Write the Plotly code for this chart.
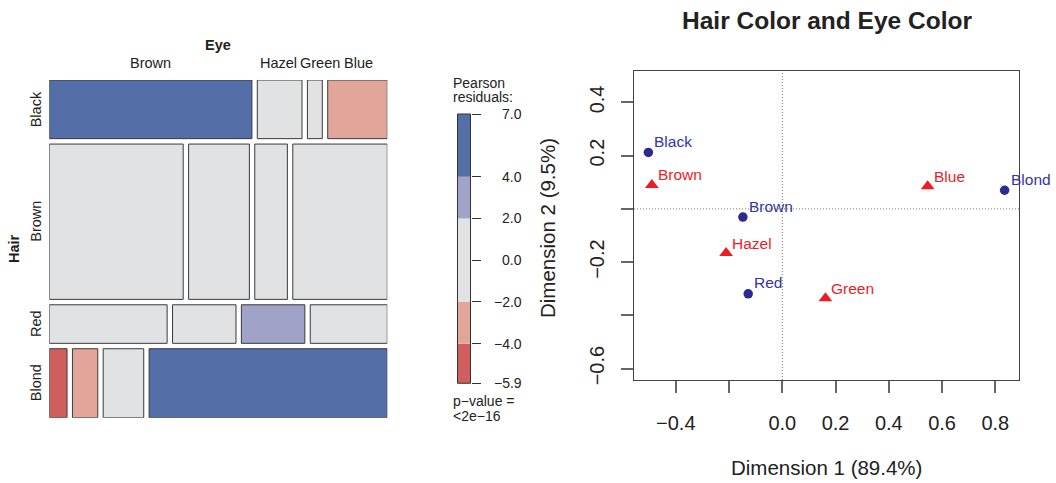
import numpy as np
import plotly.graph_objects as go

W, H = 1056, 483
FONT = "Liberation Sans, Arial, Helvetica, sans-serif"

# ---------------- data ----------------
hair_levels = ["Black", "Brown", "Red", "Blond"]
eye_levels = ["Brown", "Hazel", "Green", "Blue"]
counts_black = [68, 15, 5, 20]
counts_brown = [119, 54, 29, 84]
counts_red = [26, 14, 14, 17]
counts_blond = [7, 10, 16, 94]

legend_breaks = [-5.9, -4.0, -2.0, 2.0, 4.0, 7.0]
legend_tick_vals = [7.0, 4.0, 2.0, 0.0, -2.0, -4.0, -5.9]

hair_dim1 = [-0.503, -0.148, -0.128, 0.835]
hair_dim2 = [0.212, -0.031, -0.319, 0.070]
eye_dim1 = [-0.490, -0.211, 0.162, 0.546]
eye_dim2 = [0.090, -0.166, -0.336, 0.085]

x_ticks = [-0.4, -0.2, 0.0, 0.2, 0.4, 0.6, 0.8]
x_ticklabels = ["\u22120.4", "", "0.0", "0.2", "0.4", "0.6", "0.8"]
y_ticks = [-0.6, -0.4, -0.2, 0.0, 0.2, 0.4]
y_ticklabels = ["\u22120.6", "", "\u22120.2", "", "0.2", "0.4"]

# ---------------- helpers ----------------
def px(x):
    return x / W

def py(y):
    return 1 - y / H

def shade(r):
    if r > 4:
        return "#546EA8"
    if r > 2:
        return "#A0A2C8"
    if r >= -2:
        return "#E1E2E4"
    if r >= -4:
        return "#E2A59A"
    return "#D05E5D"

legend_colors = ["#D05E5D", "#E2A59A", "#E1E2E4", "#A0A2C8", "#546EA8"]

tab = np.array([counts_black, counts_brown, counts_red, counts_blond], dtype=float)
N = tab.sum()
row_tot = tab.sum(axis=1)
col_tot = tab.sum(axis=0)
expected = np.outer(row_tot, col_tot) / N
resid = (tab - expected) / np.sqrt(expected)

# mosaic geometry (in axis units)
MW, MH, GAP = 338.0, 337.7, 5.4
row_h = row_tot / N * (MH - 3 * GAP)
bx, by, bw, bh, bc = [], [], [], [], []
black_centers = []
row_centers = []
ystart = 0.0
for i in range(4):
    xstart = 0.0
    widths = tab[i] / row_tot[i] * (MW - 3 * GAP)
    row_centers.append(ystart + row_h[i] / 2)
    for j in range(4):
        bx.append(xstart)
        bw.append(widths[j])
        by.append(ystart + row_h[i] / 2)
        bh.append(row_h[i])
        bc.append(shade(resid[i, j]))
        if i == 0:
            black_centers.append(xstart + widths[j] / 2)
        xstart += widths[j] + GAP
    ystart += row_h[i] + GAP

fig = go.Figure()

fig.add_trace(go.Bar(
    orientation="h", x=bw, base=bx, y=by, width=bh,
    marker=dict(color=bc, line=dict(color="#3a3a3a", width=1)),
    xaxis="x", yaxis="y", hoverinfo="skip",
))

# legend bar
fig.add_trace(go.Bar(
    x=[0] * 5, base=legend_breaks[:-1],
    y=[legend_breaks[k + 1] - legend_breaks[k] for k in range(5)],
    width=[1] * 5,
    marker=dict(color=legend_colors, line=dict(width=0)),
    xaxis="x2", yaxis="y2", hoverinfo="skip",
))

# CA points
fig.add_trace(go.Scatter(
    x=hair_dim1, y=hair_dim2, mode="markers",
    marker=dict(symbol="circle", size=9.5, color="#2B2B8F"),
    xaxis="x3", yaxis="y3", hoverinfo="skip",
))
fig.add_trace(go.Scatter(
    x=eye_dim1, y=eye_dim2, mode="markers",
    marker=dict(symbol="triangle-up", size=12, color="#EE1C25"),
    xaxis="x3", yaxis="y3", hoverinfo="skip",
))

ann = []
for lab, x, y in zip(hair_levels, hair_dim1, hair_dim2):
    ann.append(dict(x=x, y=y, xref="x3", yref="y3", text=lab, showarrow=False,
                    xanchor="left", yanchor="middle", xshift=4, yshift=11,
                    font=dict(size=15.5, color="#3434A4", family=FONT)))
for lab, x, y in zip(eye_levels, eye_dim1, eye_dim2):
    ann.append(dict(x=x, y=y, xref="x3", yref="y3", text=lab, showarrow=False,
                    xanchor="left", yanchor="middle", xshift=4, yshift=10,
                    font=dict(size=15.5, color="#EE1C25", family=FONT)))

# mosaic labels
top_label_shift = [0, -1, 5, 1]
for lab, xc, sh in zip(eye_levels, black_centers, top_label_shift):
    ann.append(dict(x=xc, y=py(63), xref="x", yref="paper", text=lab, showarrow=False,
                    xanchor="center", yanchor="middle", xshift=sh,
                    font=dict(size=14.5, color="#222", family=FONT)))
for lab, yc in zip(hair_levels, row_centers):
    ann.append(dict(x=px(36), y=yc, xref="paper", yref="y", text=lab, showarrow=False,
                    textangle=-90, xanchor="center", yanchor="middle",
                    font=dict(size=14.5, color="#222", family=FONT)))
ann.append(dict(x=px(218.3), y=py(45), xref="paper", yref="paper", text="<b>Eye</b>",
                showarrow=False, xanchor="center", yanchor="middle",
                font=dict(size=14.5, color="#222", family=FONT)))
ann.append(dict(x=px(14), y=py(249), xref="paper", yref="paper", text="<b>Hair</b>",
                showarrow=False, textangle=-90, xanchor="center", yanchor="middle",
                font=dict(size=14.5, color="#222", family=FONT)))

# legend labels
for v in legend_tick_vals:
    ann.append(dict(x=px(524), y=v, xref="paper", yref="y2",
                    text=f"{v:.1f}".replace("-", "\u2212"), showarrow=False,
                    xanchor="right", yanchor="middle",
                    font=dict(size=14, color="#222", family=FONT)))
for txt, yy in [("Pearson", 83), ("residuals:", 97), ("p\u2212value =", 401), ("&lt;2e\u221216", 416)]:
    ann.append(dict(x=px(451), y=py(yy), xref="paper", yref="paper", text=txt,
                    showarrow=False, xanchor="left", yanchor="middle",
                    font=dict(size=14, color="#222", family=FONT)))

# CA titles
ann.append(dict(x=px(826.5), y=py(20), xref="paper", yref="paper",
                text="<b>Hair Color and Eye Color</b>", showarrow=False,
                xanchor="center", yanchor="middle",
                font=dict(size=24.5, color="#222", family=FONT)))
ann.append(dict(x=px(826.5), y=py(467), xref="paper", yref="paper",
                text="Dimension 1 (89.4%)", showarrow=False,
                xanchor="center", yanchor="middle",
                font=dict(size=20.5, color="#222", family=FONT)))
ann.append(dict(x=px(547), y=py(228), xref="paper", yref="paper",
                text="Dimension 2 (9.5%)", showarrow=False, textangle=-90,
                xanchor="center", yanchor="middle",
                font=dict(size=20.5, color="#222", family=FONT)))

shapes = [
    dict(type="rect", xref="x2 domain", yref="y2 domain", x0=0, x1=1, y0=0, y1=1,
         line=dict(color="#333", width=1)),
    dict(type="line", xref="x3", yref="y3 domain", x0=0, x1=0, y0=0, y1=1,
         line=dict(color="#777", width=1, dash="1px,2px")),
    dict(type="line", xref="x3 domain", yref="y3", x0=0, x1=1, y0=0, y1=0,
         line=dict(color="#777", width=1, dash="1px,2px")),
]

fig.update_layout(
    width=W, height=H, margin=dict(l=0, r=0, t=0, b=0, autoexpand=False),
    paper_bgcolor="white", plot_bgcolor="rgba(0,0,0,0)",
    showlegend=False, font=dict(family=FONT, color="#222"),
    annotations=ann, shapes=shapes,
    xaxis=dict(domain=[px(49.3), px(387.3)], range=[0, MW], visible=False,
               fixedrange=True, automargin=False),
    yaxis=dict(domain=[py(417.7), py(80)], range=[MH, 0], visible=False,
               fixedrange=True, automargin=False),
    xaxis2=dict(domain=[px(457.5), px(470.5)], range=[-0.5, 0.5], visible=False,
                anchor="y2", automargin=False),
    yaxis2=dict(domain=[py(383.3), py(114)], range=[-5.9, 7.0], anchor="x2", side="right",
                showline=False, showgrid=False, zeroline=False, showticklabels=False,
                ticks="outside", ticklen=9, tickcolor="#333", tickwidth=1,
                tickvals=legend_tick_vals, automargin=False),
    xaxis3=dict(domain=[px(634), px(1019)], range=[-0.557, 0.889], anchor="y3",
                showline=True, mirror=True, linecolor="#444", linewidth=1.3,
                showgrid=False, zeroline=False, ticks="outside", ticklen=12,
                tickwidth=1.6, tickcolor="#666", tickvals=x_ticks, ticktext=x_ticklabels,
                tickfont=dict(size=20, color="#222", family=FONT), ticklabelstandoff=13,
                automargin=False),
    yaxis3=dict(domain=[py(380), py(71)], range=[-0.643, 0.518], anchor="x3",
                showline=True, mirror=True, linecolor="#444", linewidth=1.3,
                showgrid=False, zeroline=False, ticks="outside", ticklen=12,
                tickwidth=1.6, tickcolor="#666", tickvals=y_ticks, ticktext=y_ticklabels,
                tickangle=-90, tickfont=dict(size=20, color="#222", family=FONT),
                ticklabelstandoff=9, automargin=False),
)

fig.write_html("out.html")
